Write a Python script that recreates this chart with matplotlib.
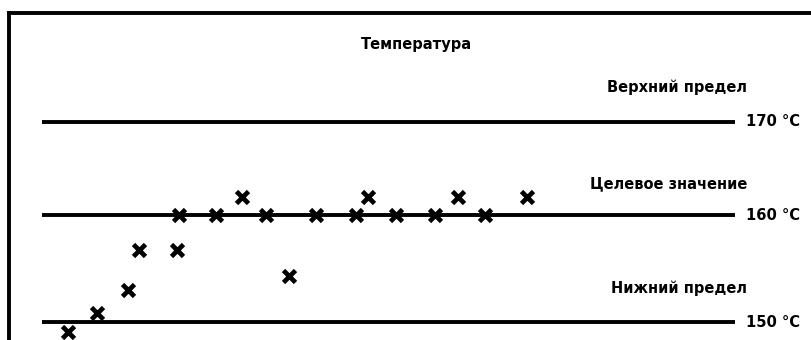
import numpy as np
import matplotlib
matplotlib.use("Agg")
import matplotlib.pyplot as plt
from matplotlib.lines import Line2D

# ---- data ----
title = "Температура"
limit_values = [170, 160, 150]
limit_names = ["Верхний предел", "Целевое значение", "Нижний предел"]
limit_labels = ["170 °C", "160 °C", "150 °C"]

# time positions (arbitrary units along the horizontal axis) and temperatures (°C)
times = [68, 97, 128, 139, 177, 179, 216, 242, 266, 289, 316, 356, 368, 396, 435, 458, 485, 527]
temps = [149.1, 150.9, 153.0, 156.8, 156.8, 160.0, 160.0, 162.0, 160.0, 154.3,
         160.0, 160.0, 162.0, 160.0, 160.0, 162.0, 160.0, 162.0]

line_start, line_end = 42, 735

plt.rcParams['font.family'] = ['DejaVu Sans']

fig = plt.figure(figsize=(8.11, 3.40), dpi=100)
ax = fig.add_axes([0, 0, 1, 1])

# piecewise-linear vertical scale (drawing is not evenly spaced)
def fwd(v):
    v = np.asarray(v, dtype=float)
    return np.where(v < 160, 124.5 + (v - 160) * 10.7, 124.5 + (v - 160) * 9.38)

def inv(p):
    p = np.asarray(p, dtype=float)
    return np.where(p < 124.5, 160 + (p - 124.5) / 10.7, 160 + (p - 124.5) / 9.38)

ax.set_yscale('function', functions=(fwd, inv))
ax.set_xlim(0, 811)
ax.set_ylim(160 - 124.5 / 10.7, 160 + 215.5 / 9.38)
ax.axis('off')

ax.hlines(limit_values, line_start, line_end, colors='black', lw=2.8)
ax.plot(times, temps, linestyle='none', marker='x', color='black', ms=8.5, mew=3.4)

name_offsets = [-34, -32, -34]
for v, name, lab, off in zip(limit_values, limit_names, limit_labels, name_offsets):
    ax.annotate(lab, xy=(line_end + 11, v), xycoords='data', va='center', ha='left',
                fontsize=10.6, fontweight='bold')
    ax.annotate(name, xy=(747, v), xycoords='data', xytext=(0, -off * 0.72),
                textcoords='offset points', va='center', ha='right',
                fontsize=10.5, fontweight='bold')

fig.text(416 / 811, 1 - 45 / 340, title, ha='center', va='center',
         fontsize=10.5, fontweight='bold')

# frame (top and left edges)
fig.add_artist(Line2D([9 / 811, 1], [1 - 13 / 340, 1 - 13 / 340], color='black', lw=2.8,
                      transform=fig.transFigure))
fig.add_artist(Line2D([9 / 811, 9 / 811], [0, 1 - 13 / 340], color='black', lw=2.8,
                      transform=fig.transFigure))

fig.savefig('out.png', dpi=100)
